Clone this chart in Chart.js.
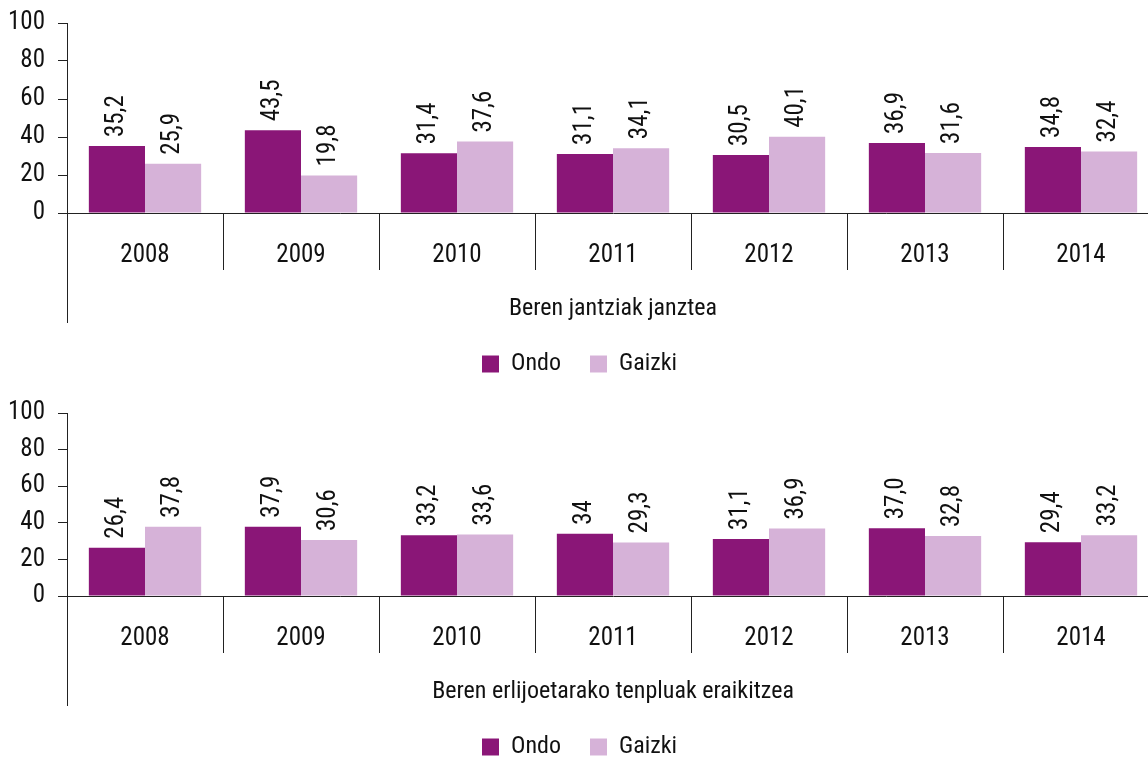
<!DOCTYPE html>
<html>
<head>
<meta charset="utf-8">
<title>Ondo / Gaizki 2008-2014</title>
<script src="https://cdn.jsdelivr.net/npm/chart.js@4"></script>
<style>
  html, body { margin: 0; padding: 0; background: #fff; }
  body { width: 1148px; height: 758px; overflow: hidden; position: relative; }
  canvas { position: absolute; left: 0; }
  #chartTop { top: 0; }
  #chartBottom { top: 390px; }
</style>
</head>
<body>
<canvas id="chartTop" width="1160" height="386"></canvas>
<canvas id="chartBottom" width="1160" height="379"></canvas>
<script>
// categories and values (labels are written the way they are printed)
const YEARS = ['2008', '2009', '2010', '2011', '2012', '2013', '2014'];
const SERIES = ['Ondo', 'Gaizki'];
const Y_TICKS = [0, 20, 40, 60, 80, 100];

const CLOTHES_TITLE = 'Beren jantziak janztea';
const CLOTHES_ONDO = ['35,2', '43,5', '31,4', '31,1', '30,5', '36,9', '34,8'];
const CLOTHES_GAIZKI = ['25,9', '19,8', '37,6', '34,1', '40,1', '31,6', '32,4'];

const TEMPLES_TITLE = 'Beren erlijoetarako tenpluak eraikitzea';
const TEMPLES_ONDO = ['26,4', '37,9', '33,2', '34', '31,1', '37,0', '29,4'];
const TEMPLES_GAIZKI = ['37,8', '30,6', '33,6', '29,3', '36,9', '32,8', '33,2'];

const COLORS = ['#8a1677', '#d6b2d8'];
const FONT = "'Liberation Sans Narrow', 'Roboto Condensed', 'DejaVu Sans Condensed', sans-serif";
const TEXT_COLOR = '#111';
const AXIS_COLOR = '#222';

Chart.defaults.font.family = FONT;
Chart.defaults.color = TEXT_COLOR;

const toNumber = s => parseFloat(s.replace(',', '.'));

// left axis line running down past the category row, plus rotated value labels
const frameAndLabels = {
  id: 'frameAndLabels',
  afterDatasetsDraw(chart) {
    const ctx = chart.ctx;
    const { left, top } = chart.chartArea;
    const xs = chart.scales.x;
    ctx.save();
    ctx.strokeStyle = AXIS_COLOR;
    ctx.lineWidth = 1;
    ctx.beginPath();
    ctx.moveTo(left + 0.5, top);
    ctx.lineTo(left + 0.5, xs.bottom);
    ctx.stroke();

    ctx.fillStyle = TEXT_COLOR;
    ctx.font = `25px ${FONT}`;
    ctx.textAlign = 'left';
    ctx.textBaseline = 'middle';
    chart.data.datasets.forEach((ds, i) => {
      chart.getDatasetMeta(i).data.forEach((bar, j) => {
        ctx.save();
        ctx.translate(bar.x, bar.y - 9);
        ctx.rotate(-Math.PI / 2);
        ctx.fillText(ds.valueLabels[j], 0, 0);
        ctx.restore();
      });
    });
    ctx.restore();
  }
};

function makeChart(canvasId, title, ondo, gaizki) {
  const datasets = [ondo, gaizki].map((vals, i) => ({
    label: SERIES[i],
    data: vals.map(toNumber),
    valueLabels: vals,
    backgroundColor: COLORS[i],
    borderWidth: 0,
    categoryPercentage: 0.72,
    barPercentage: 1.0
  }));

  return new Chart(document.getElementById(canvasId), {
    type: 'bar',
    data: { labels: YEARS, datasets },
    options: {
      responsive: false,
      animation: false,
      events: [],
      layout: { padding: { top: 23, right: 1, left: 0, bottom: 0 } },
      plugins: {
        tooltip: { enabled: false },
        legend: {
          position: 'bottom',
          labels: {
            boxWidth: 17,
            boxHeight: 17,
            padding: 29,
            color: TEXT_COLOR,
            font: { size: 24 }
          }
        }
      },
      scales: {
        x: {
          offset: true,
          afterFit: s => { s.height = 110; },
          grid: { offset: true, drawOnChartArea: false, drawTicks: true, tickLength: 57, color: AXIS_COLOR },
          border: { display: true, color: AXIS_COLOR },
          ticks: { padding: -29, font: { size: 25 }, color: TEXT_COLOR, maxRotation: 0 },
          title: { display: true, text: title, font: { size: 24 }, color: TEXT_COLOR, padding: 0 }
        },
        y: {
          min: 0,
          max: 100,
          afterFit: s => { s.width = 67; },
          afterBuildTicks: s => { s.ticks = Y_TICKS.map(v => ({ value: v })); },
          grid: { drawOnChartArea: false, drawTicks: true, tickLength: 9, color: AXIS_COLOR },
          border: { display: false },
          // single-line labels, so a tight line height only trims the top margin
          ticks: { padding: 13, font: { size: 25, lineHeight: 0.8 }, color: TEXT_COLOR }
        }
      }
    },
    plugins: [frameAndLabels]
  });
}

makeChart('chartTop', CLOTHES_TITLE, CLOTHES_ONDO, CLOTHES_GAIZKI);
makeChart('chartBottom', TEMPLES_TITLE, TEMPLES_ONDO, TEMPLES_GAIZKI);
</script>
</body>
</html>
